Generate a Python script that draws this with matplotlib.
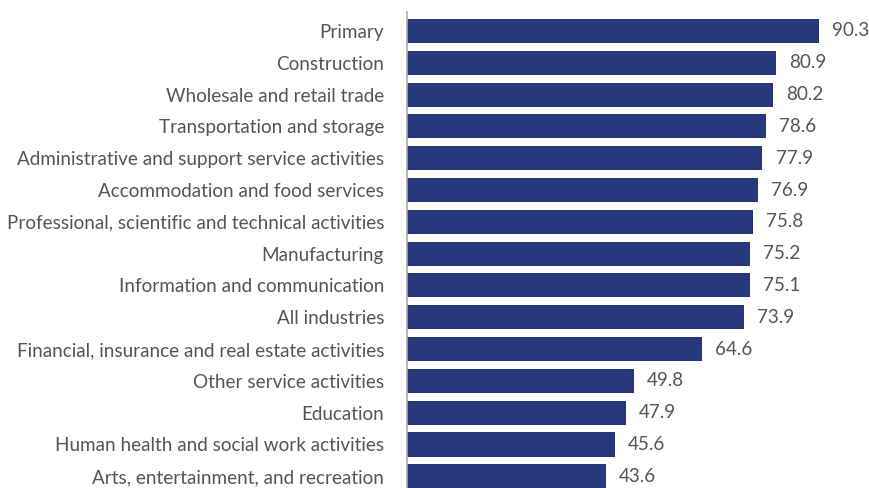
import matplotlib
matplotlib.use("Agg")
import matplotlib.pyplot as plt

categories = [
    "Primary",
    "Construction",
    "Wholesale and retail trade",
    "Transportation and storage",
    "Administrative and support service activities",
    "Accommodation and food services",
    "Professional, scientific and technical activities",
    "Manufacturing",
    "Information and communication",
    "All industries",
    "Financial, insurance and real estate activities",
    "Other service activities",
    "Education",
    "Human health and social work activities",
    "Arts, entertainment, and recreation",
]
values = [90.3, 80.9, 80.2, 78.6, 77.9, 76.9, 75.8, 75.2, 75.1, 73.9, 64.6, 49.8, 47.9, 45.6, 43.6]

bar_color = "#26387A"
text_color = "#555555"

plt.rcParams["font.family"] = ["Lato", "DejaVu Sans"]

W, H = 870, 488
fig = plt.figure(figsize=(W / 100, H / 100), dpi=100)
left_px, top_px = 407, 12
ax = fig.add_axes([left_px / W, 0, 1 - left_px / W, (H - top_px) / H])

pos = list(range(len(categories)))
ax.barh(pos, values, height=0.76, color=bar_color, zorder=2)
ax.set_xlim(0, (W - left_px) / 4.563)
ax.set_ylim(14.37, -0.597)

ax.set_yticks(pos)
ax.set_yticklabels(categories, fontsize=13.6, color=text_color)
ax.tick_params(axis="y", length=0, pad=16.5)
ax.set_xticks([])

for s in ["top", "right", "bottom"]:
    ax.spines[s].set_visible(False)
ax.spines["left"].set_color("#AAAAAA")
ax.spines["left"].set_linewidth(1.2)

for p, v in zip(pos, values):
    ax.annotate(f"{v:.1f}", (v, p), xytext=(9.4, 0), textcoords="offset points",
                va="center", ha="left", fontsize=13.6, color=text_color)

fig.savefig("out.png", dpi=100)
